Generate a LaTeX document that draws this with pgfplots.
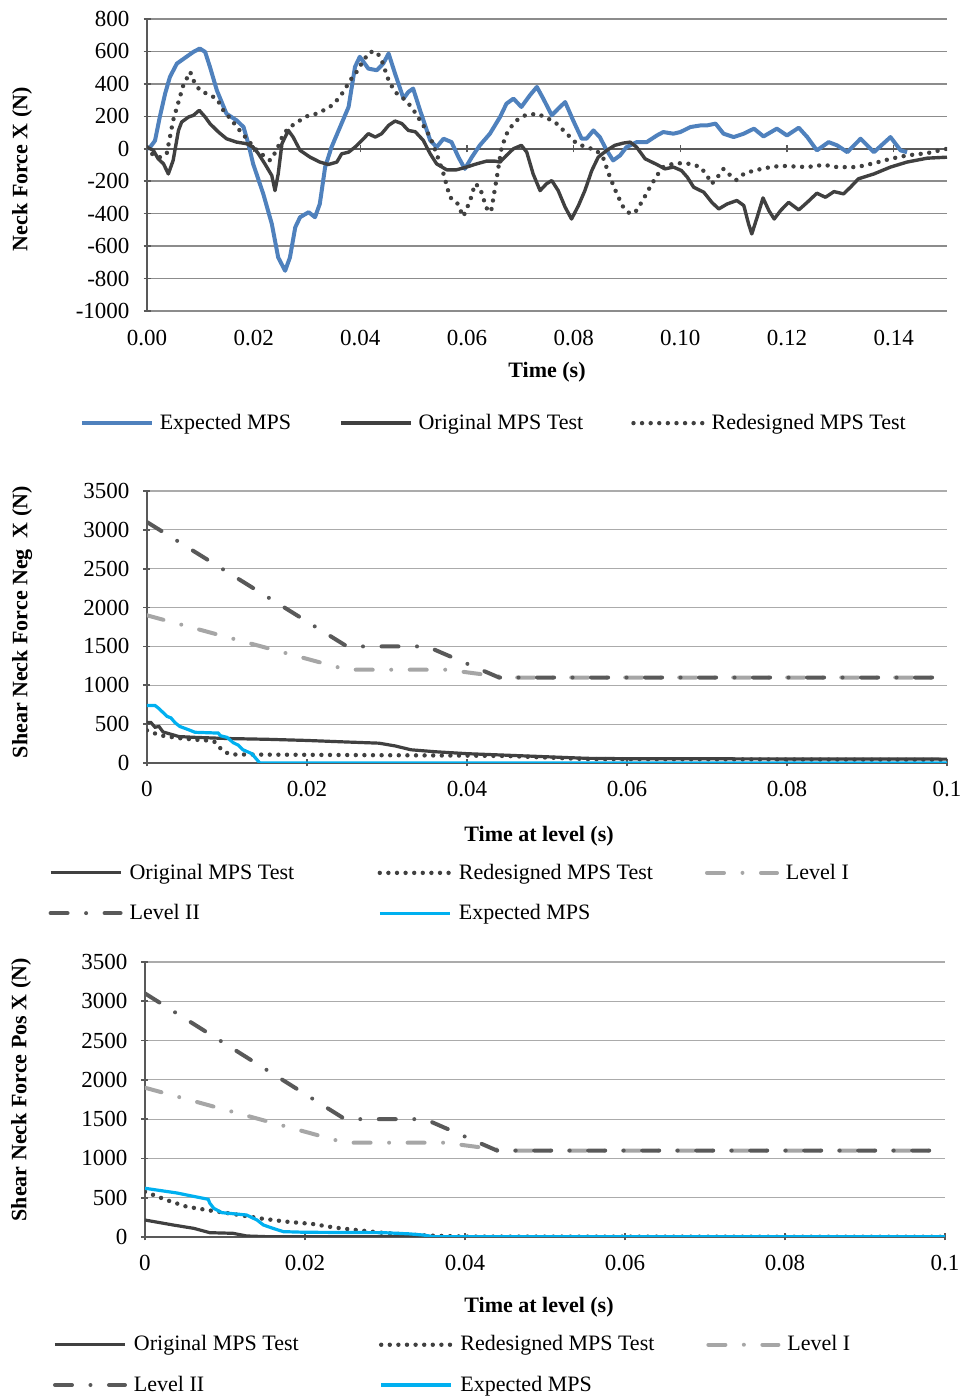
\documentclass[border=0pt]{standalone}
\usepackage{fontspec}
\setmainfont{Liberation Serif}
\usepackage{pgfplots}
\pgfplotsset{compat=1.18}

\definecolor{mpsblue}{HTML}{4F81BD}
\definecolor{mpscyan}{HTML}{00B0F0}
\definecolor{dk}{HTML}{404040}
\definecolor{lvtwo}{HTML}{595959}
\definecolor{lvone}{HTML}{A6A6A6}
\definecolor{gridA}{HTML}{8C8C8C}
\definecolor{gridB}{HTML}{ABABAB}
\definecolor{axisc}{HTML}{595959}

\newcommand{\fs}{\fontsize{11}{13}\selectfont}
\newcommand{\ft}{\fontsize{11.5}{13}\selectfont}

\pgfplotsset{
  base/.style={
    scale only axis,
    axis line style={draw=axisc, line width=1pt},
    tick style={draw=axisc, line width=0.8pt},
    major tick length=3.5pt,
    tick align=outside,
    ymajorgrids,
    tick label style={font=\ft},
    label style={font=\fs\bfseries},
    legend style={font=\fs, draw=none, fill=none, inner sep=0pt, outer sep=0pt},
    legend cell align=left,
    legend image code/.code={\draw[##1] (0pt,0pt) -- (35pt,0pt);},
  },
  noarrows/.style={
    every inner x axis line/.append style={-},
    every outer x axis line/.append style={-},
    every inner y axis line/.append style={-},
    every outer y axis line/.append style={-},
  },
  dotted line/.style={draw=dk, line width=2.2pt, line cap=round, dash pattern=on 0pt off 4.3pt},
  levelone/.style={draw=lvone, line width=2pt, line cap=round, dash pattern=on 8.5pt off 9.25pt on 0pt off 9.25pt},
  leveltwo/.style={draw=lvtwo, line width=2pt, line cap=round, dash pattern=on 8.5pt off 9.25pt on 0pt off 9.25pt},
}

\begin{document}
\begin{tikzpicture}
\useasboundingbox (0,0) rectangle (479.5pt,699pt);

% ---------------- top: neck force X over time
\begin{axis}[
  base,
  at={(73.5pt,543.5pt)}, anchor=south west,
  width=400pt, height=146pt,
  xmin=0, xmax=0.15, ymin=-1000, ymax=800,
  axis y line=left, axis x line=middle, noarrows,
  hide obscured x ticks=false, hide obscured y ticks=false,
  grid style={draw=gridA, line width=0.75pt},
  xtick={0,0.02,0.04,0.06,0.08,0.10,0.12,0.14},
  xticklabels={0.00,0.02,0.04,0.06,0.08,0.10,0.12,0.14},
  xticklabel style={yshift=-85.5pt},
  ytick={-1000,-800,-600,-400,-200,0,200,400,600,800},
  yticklabels={-1000,-800,-600,-400,-200,0,200,400,600,800},
  yticklabel style={xshift=-3.5pt},
  xlabel={Time (s)},
  xlabel style={at={(axis description cs:0.5,-0.21)}, anchor=center, font=\fs\bfseries},
  ylabel={Neck Force X (N)},
  ylabel style={at={(axis description cs:-0.156,0.486)}, anchor=center},
  legend columns=3,
  legend style={at={(axis description cs:-0.084,-0.384)}, anchor=west,
    /tikz/every odd column/.append style={column sep=1pt},
    /tikz/every even column/.append style={column sep=22pt}},
]
\addplot[draw=mpsblue, line width=2pt, line join=round] coordinates {
(0,0) (0.0006,10) (0.0015,50) (0.0024,196) (0.0034,340) (0.0043,443) (0.0056,525)
(0.0074,567) (0.0087,597) (0.0099,618) (0.0109,597) (0.0118,505) (0.0131,360)
(0.0149,216) (0.0168,175) (0.0181,134) (0.019,31) (0.0199,-93) (0.0218,-278)
(0.0234,-463) (0.0246,-670) (0.0259,-752) (0.0268,-670) (0.0278,-484) (0.0287,-422)
(0.0303,-391) (0.0315,-422) (0.0324,-340) (0.0334,-113) (0.0346,10) (0.0362,134)
(0.0378,258) (0.039,505) (0.0399,567) (0.0415,494) (0.0431,484) (0.0443,525)
(0.0453,587) (0.0465,464) (0.0481,309) (0.049,350) (0.0499,371) (0.0512,237)
(0.0531,52) (0.0543,10) (0.0556,62) (0.0571,41) (0.0584,-52) (0.0596,-124)
(0.0609,-52) (0.0624,21) (0.0643,93) (0.0662,196) (0.0674,278) (0.0687,309)
(0.0702,258) (0.0718,330) (0.0731,381) (0.0743,309) (0.0759,206) (0.0771,247)
(0.0784,288) (0.0799,175) (0.0815,62) (0.0824,62) (0.0837,113) (0.0849,72)
(0.0862,-10) (0.0874,-72) (0.0887,-41) (0.0899,10) (0.0918,41) (0.0937,41)
(0.0956,82) (0.0968,103) (0.0987,93) (0.1,103) (0.1019,134) (0.1038,144)
(0.105,144) (0.1066,155) (0.1081,93) (0.11,72) (0.1119,93) (0.1138,124)
(0.1156,76) (0.1181,124) (0.12,82) (0.1222,130) (0.1238,72) (0.1256,-10)
(0.1278,41) (0.1294,21) (0.1313,-21) (0.1338,62) (0.1363,-21) (0.1394,72)
(0.1413,-10) (0.1425,-21)
};
\addlegendentry{Expected MPS}
\addplot[draw=dk, line width=1.7pt, line join=round] coordinates {
(0,10) (0.0012,-10) (0.0021,-62) (0.0031,-93) (0.004,-155) (0.0049,-72) (0.0059,113)
(0.0065,165) (0.0078,196) (0.0087,206) (0.0098,237) (0.0109,196) (0.0118,155)
(0.0134,103) (0.0149,62) (0.0168,41) (0.0187,31) (0.0199,10) (0.0209,-31)
(0.0221,-93) (0.0234,-165) (0.024,-258) (0.0246,-155) (0.0253,31) (0.0265,113)
(0.0274,72) (0.0287,-10) (0.0306,-52) (0.0324,-82) (0.034,-97) (0.0356,-82)
(0.0365,-31) (0.0378,-21) (0.039,10) (0.0403,52) (0.0415,93) (0.0428,72)
(0.044,93) (0.0453,144) (0.0465,171) (0.0478,155) (0.049,113) (0.0503,105)
(0.0518,52) (0.0531,-31) (0.0543,-93) (0.0562,-130) (0.058,-130) (0.0599,-113)
(0.0618,-93) (0.0637,-76) (0.0652,-76) (0.0662,-82) (0.0674,-41) (0.0687,0)
(0.0702,21) (0.0712,-21) (0.0724,-155) (0.0737,-258) (0.0749,-216) (0.0759,-196)
(0.0771,-258) (0.0784,-360) (0.0796,-433) (0.0809,-350) (0.0821,-258) (0.0834,-134)
(0.0846,-52) (0.0862,-10) (0.0877,21) (0.0893,35) (0.0906,41) (0.0918,10)
(0.0934,-62) (0.0956,-97) (0.0971,-124) (0.0987,-113) (0.1002,-134) (0.1013,-175)
(0.1025,-237) (0.1044,-268) (0.1059,-330) (0.1072,-371) (0.1088,-340) (0.1106,-319)
(0.1119,-350) (0.1128,-464) (0.1134,-525) (0.1144,-422) (0.1155,-303) (0.1166,-381)
(0.1176,-433) (0.1188,-381) (0.1203,-330) (0.1222,-377) (0.1238,-330) (0.1256,-274)
(0.1272,-299) (0.1288,-264) (0.1306,-278) (0.1319,-237) (0.1334,-185) (0.1363,-155)
(0.1394,-113) (0.1425,-82) (0.1463,-58) (0.15,-52)
};
\addlegendentry{Original MPS Test}
\addplot[dotted line] coordinates {
(0,10) (0.0012,-41) (0.0024,-52) (0.0037,-31) (0.0043,72) (0.0049,175) (0.0059,288)
(0.0068,391) (0.0081,474) (0.0087,422) (0.0099,360) (0.0118,330) (0.0131,309)
(0.0143,237) (0.0159,175) (0.0171,124) (0.0187,62) (0.0203,0) (0.0218,-41)
(0.0231,-72) (0.0243,-10) (0.0256,93) (0.0268,134) (0.0287,175) (0.0303,206)
(0.0318,216) (0.0331,237) (0.0343,258) (0.0356,299) (0.0368,350) (0.0381,422)
(0.0393,474) (0.0406,546) (0.0418,597) (0.0431,597) (0.044,546) (0.0453,422)
(0.0465,350) (0.0481,309) (0.0496,258) (0.0506,206) (0.0518,144) (0.0531,72)
(0.0543,-31) (0.0556,-155) (0.0568,-299) (0.0581,-330) (0.0593,-418) (0.0606,-319)
(0.0615,-216) (0.0624,-237) (0.0634,-340) (0.064,-391) (0.0646,-371) (0.0656,-175)
(0.0665,10) (0.0677,113) (0.0693,175) (0.0709,206) (0.0731,216) (0.0749,192)
(0.0768,155) (0.0787,93) (0.0806,31) (0.0824,10) (0.0843,-10) (0.0856,-62)
(0.0868,-175) (0.0881,-278) (0.0893,-360) (0.0906,-402) (0.0918,-381) (0.0931,-309)
(0.0943,-237) (0.0956,-165) (0.0968,-113) (0.0981,-97) (0.0996,-89) (0.1019,-93)
(0.1038,-113) (0.105,-165) (0.1059,-216) (0.1072,-165) (0.1081,-124) (0.1094,-165)
(0.1105,-192) (0.1119,-155) (0.1138,-134) (0.1163,-117) (0.1188,-105) (0.1213,-109)
(0.1238,-113) (0.1269,-99) (0.1294,-113) (0.1331,-113) (0.1363,-89) (0.1394,-62)
(0.1425,-41) (0.1463,-27) (0.15,0)
};
\addlegendentry{Redesigned MPS Test}
\end{axis}

% ---------------- middle: shear neck force neg X
\begin{axis}[
  base,
  at={(73.5pt,317.5pt)}, anchor=south west,
  width=400pt, height=136pt,
  xmin=0, xmax=0.1, ymin=0, ymax=3500,
  axis y line=left, axis x line=bottom, noarrows,
  grid style={draw=gridB, line width=0.6pt},
  xtick={0,0.02,0.04,0.06,0.08,0.1},
  xticklabels={0,0.02,0.04,0.06,0.08,0.1},
  xticklabel style={yshift=-4pt},
  ytick={0,500,1000,1500,2000,2500,3000,3500},
  yticklabels={0,500,1000,1500,2000,2500,3000,3500},
  yticklabel style={xshift=-3.5pt},
  xlabel={Time at level (s)},
  xlabel style={at={(axis description cs:0.49,-0.268)}, anchor=center},
  ylabel={Shear Neck Force Neg\ \ X (N)},
  ylabel style={at={(axis description cs:-0.156,0.518)}, anchor=center},
  legend columns=3,
  legend style={at={(axis description cs:-0.123,-0.478)}, anchor=west, row sep=7pt,
    /tikz/every odd column/.append style={column sep=1.5pt}},
]
\addplot[draw=dk, line width=1.6pt] coordinates {
(0,520) (0.0005,520) (0.001,460) (0.0015,470) (0.002,400) (0.003,370) (0.004,340)
(0.006,330) (0.01,315) (0.015,305) (0.02,290) (0.025,270) (0.029,255) (0.031,220)
(0.033,170) (0.036,145) (0.04,120) (0.045,100) (0.05,80) (0.055,60) (0.06,55) (0.1,50)
};
\addlegendentry{\makebox[122pt][l]{Original MPS Test}}
\addplot[dotted line] coordinates {
(0,420) (0.001,380) (0.002,350) (0.004,320) (0.006,300) (0.0075,290) (0.0085,270)
(0.0095,150) (0.0105,110) (0.02,105) (0.03,100) (0.04,95) (0.045,90) (0.05,70)
(0.055,50) (0.1,40)
};
\addlegendentry{\makebox[121pt][l]{Redesigned MPS Test}}
\addplot[levelone] coordinates {
(0,1900) (0.025,1200) (0.0375,1200) (0.045,1100) (0.1,1100)
};
\addlegendentry{Level I}
\addplot[leveltwo] coordinates {
(0,3100) (0.025,1500) (0.035,1500) (0.044,1100) (0.1,1100)
};
\addlegendentry{Level II}
\addplot[draw=mpscyan, line width=1.6pt] coordinates {
(0,740) (0.001,740) (0.0015,700) (0.0025,600) (0.003,580) (0.0035,520) (0.0041,470)
(0.0054,420) (0.006,395) (0.0089,385) (0.0092,350) (0.0100,330) (0.0108,260)
(0.0114,230) (0.0120,170) (0.0131,120) (0.0136,60) (0.0141,0) (0.1,0)
};
\addlegendentry{Expected MPS}
\end{axis}

% ---------------- bottom: shear neck force pos X
\begin{axis}[
  base,
  at={(72.5pt,80.5pt)}, anchor=south west,
  width=400pt, height=137.5pt,
  xmin=0, xmax=0.1, ymin=0, ymax=3500,
  axis y line=left, axis x line=bottom, noarrows,
  grid style={draw=gridB, line width=0.6pt},
  xtick={0,0.02,0.04,0.06,0.08,0.1},
  xticklabels={0,0.02,0.04,0.06,0.08,0.1},
  xticklabel style={yshift=-4pt},
  ytick={0,500,1000,1500,2000,2500,3000,3500},
  yticklabels={0,500,1000,1500,2000,2500,3000,3500},
  yticklabel style={xshift=-3.5pt},
  xlabel={Time at level (s)},
  xlabel style={at={(axis description cs:0.4925,-0.255)}, anchor=center},
  ylabel={Shear Neck Force Pos X (N)},
  ylabel style={at={(axis description cs:-0.155,0.535)}, anchor=center},
  legend columns=3,
  legend style={at={(axis description cs:-0.115,-0.465)}, anchor=west, row sep=7pt,
    /tikz/every odd column/.append style={column sep=1.5pt}},
]
\addplot[draw=dk, line width=1.6pt] coordinates {
(0,216) (0.0035,153) (0.0061,110) (0.0081,55) (0.011,47) (0.0127,13) (0.015,5) (0.1,3)
};
\addlegendentry{\makebox[120.5pt][l]{Original MPS Test}}
\addplot[dotted line] coordinates {
(0,576) (0.0027,470) (0.0052,386) (0.0077,344) (0.011,293) (0.0144,237) (0.0177,195)
(0.021,165) (0.0235,123) (0.0256,98) (0.03,50) (0.035,20) (0.04,5) (0.1,3)
};
\addlegendentry{\makebox[121pt][l]{Redesigned MPS Test}}
\addplot[levelone] coordinates {
(0,1900) (0.025,1200) (0.0375,1200) (0.045,1100) (0.1,1100)
};
\addlegendentry{Level I}
\addplot[leveltwo] coordinates {
(0,3100) (0.025,1500) (0.035,1500) (0.044,1100) (0.1,1100)
};
\addlegendentry{Level II}
\addplot[draw=mpscyan, line width=1.6pt] coordinates {
(0,620) (0.002,590) (0.004,560) (0.0052,535) (0.0079,480) (0.0081,430) (0.0086,365)
(0.0096,310) (0.0127,280) (0.014,216) (0.0148,153) (0.016,110) (0.0173,68) (0.02,60)
(0.0298,55) (0.033,40) (0.0348,25) (0.036,5) (0.1,5)
};
\addlegendentry{Expected MPS}
\end{axis}
\end{tikzpicture}
\end{document}
